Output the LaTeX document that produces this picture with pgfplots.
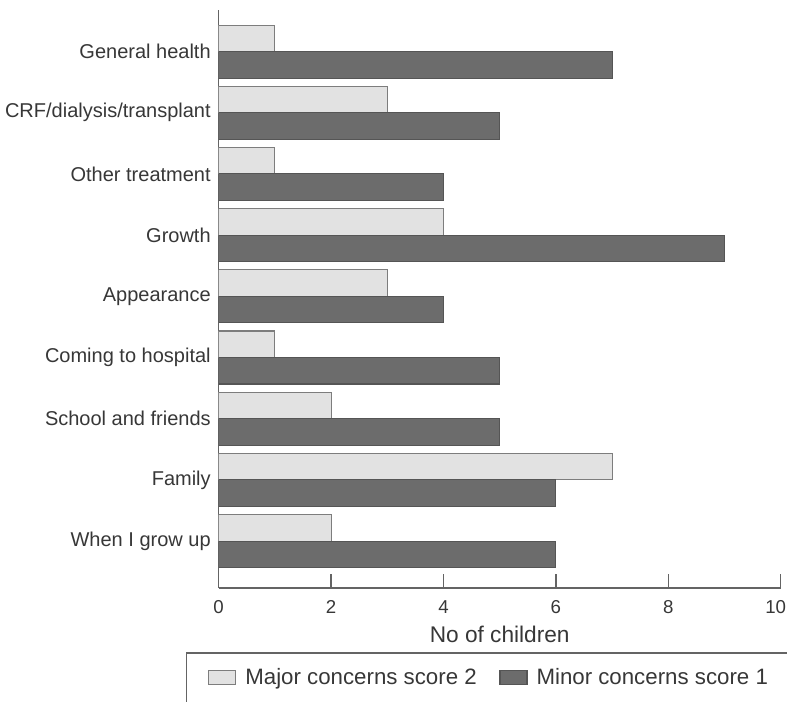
\documentclass[border=0pt]{standalone}
\usepackage{fontspec}
\setmainfont{Liberation Sans}
\usepackage{pgfplots}
\pgfplotsset{compat=1.18}
\definecolor{lightbar}{RGB}{226,226,226}
\definecolor{lightedge}{RGB}{125,125,125}
\definecolor{darkbar}{RGB}{108,108,108}
\definecolor{darkedge}{RGB}{85,85,85}
\definecolor{axisgray}{RGB}{100,100,100}
\definecolor{txt}{RGB}{55,55,55}
\begin{document}
\begin{tikzpicture}
\begin{axis}[
  scale only axis, width=421.5pt, height=433.5pt,
  xbar, bar width=0.433,
  xmin=0, xmax=10, ymin=0.232, ymax=9.68,
  axis lines*=left,
  axis line style={axisgray, line width=1pt},
  xtick={0,2,...,10},
  xticklabels={0,2,4,6,8,\makebox[0pt][r]{10\kern-4pt}},
  tick align=inside,
  major tick length=10.5pt,
  x tick style={axisgray, line width=0.9pt},
  ytick={1,...,9},
  yticklabels={When I grow up, Family, School and friends, Coming to hospital, Appearance, Growth, Other treatment, CRF/dialysis/transplant, General health},
  y tick style={draw=none},
  yticklabel style={font=\fontsize{15}{18}\selectfont, text=txt, inner sep=0pt, xshift=-5.8pt},
  xticklabel style={font=\fontsize{14}{17}\selectfont, text=txt, yshift=-6pt},
  /pgf/number format/assume math mode=true,
  xlabel={No of children},
  xlabel style={font=\fontsize{17}{20}\selectfont, text=txt, at={(axis description cs:0.5,0)}, anchor=center, yshift=-34.5pt},
  legend columns=2,
  legend style={at={(rel axis cs:-0.019,-0.154)}, anchor=west, draw=none, fill=none, inner sep=0pt,
    font=\fontsize{16.7}{20}\selectfont, text=txt,
    /tikz/every even column/.append style={column sep=15pt}},
  mylegend/.style={legend image code/.code={\draw[##1] (0pt,-5.25pt) rectangle (20.25pt,5.25pt); \path (25pt,0pt);}},
]
\addplot[fill=lightbar, draw=lightedge, line width=0.8pt, bar shift=0.2165, mylegend]
  coordinates {(1,9) (3,8) (1,7) (4,6) (3,5) (1,4) (2,3) (7,2) (2,1)};
\addlegendentry{Major concerns score 2}
\addplot[fill=darkbar, draw=darkedge, line width=0.8pt, bar shift=-0.2165, mylegend]
  coordinates {(7,9) (5,8) (4,7) (9,6) (4,5) (5,4) (5,3) (6,2) (6,1)};
\addlegendentry{Minor concerns score 1}
\end{axis}
\draw[axisgray, line width=1pt] (-24pt,-120pt) -- (-24pt,-48.75pt) -- (600pt,-48.75pt);
\pgfresetboundingbox
\path[use as bounding box] (-164pt,-84.75pt) rectangle (426.2pt,441pt);
\end{tikzpicture}
\end{document}
